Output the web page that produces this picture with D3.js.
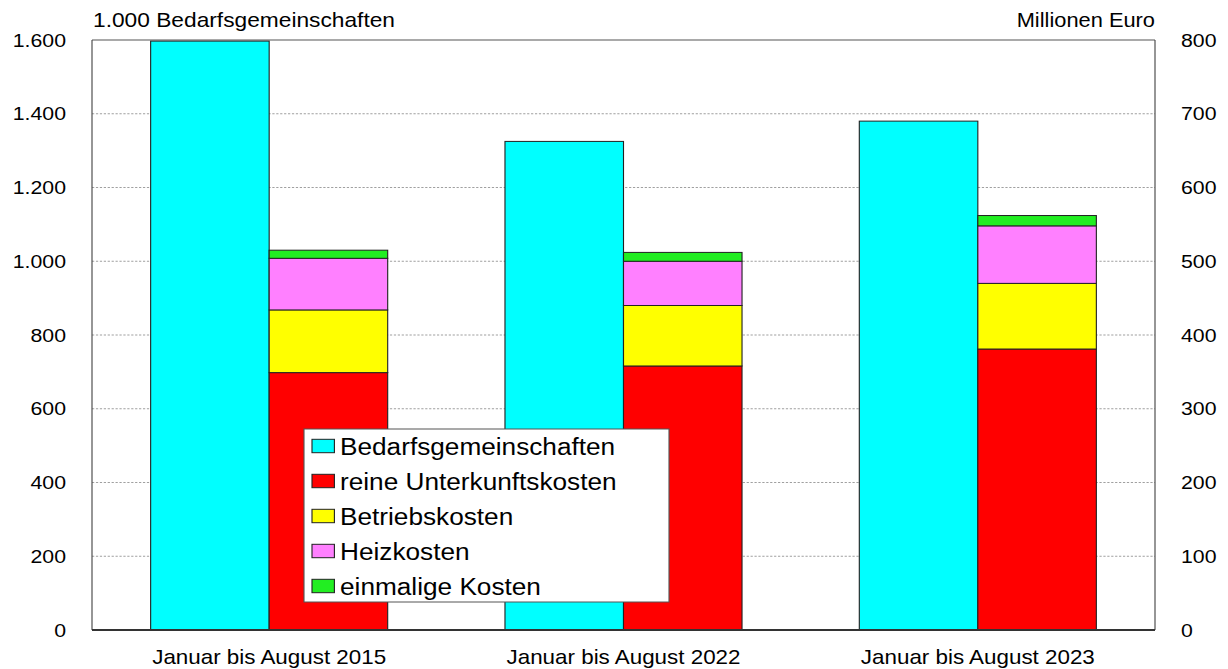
<!DOCTYPE html>
<html>
<head>
<meta charset="utf-8">
<script src="https://cdn.jsdelivr.net/npm/d3@7"></script>
<style>
  html, body { margin: 0; padding: 0; background: #fff; }
  svg { display: block; }
  text { font-family: "Liberation Sans", Arial, Helvetica, sans-serif; fill: #000; }
</style>
</head>
<body>
<svg id="chart"></svg>
<script>
// ---- data ----
const categories = ["Januar bis August 2015", "Januar bis August 2022", "Januar bis August 2023"];
const bedarfsgemeinschaften = [1597, 1325, 1380];      // 1.000 BG (left axis)
const reineUnterkunftskosten = [349, 358, 381];        // Mio. Euro (right axis)
const betriebskosten = [85, 82, 89];
const heizkosten = [70, 60, 78];
const einmaligeKosten = [11, 12, 14];
const leftTicks = [0, 200, 400, 600, 800, 1000, 1200, 1400, 1600];
const rightTicks = [0, 100, 200, 300, 400, 500, 600, 700, 800];
const seriesNames = ["Bedarfsgemeinschaften", "reine Unterkunftskosten", "Betriebskosten", "Heizkosten", "einmalige Kosten"];
const seriesColors = ["#00FFFF", "#FF0000", "#FFFF00", "#FF80FF", "#22EE22"];

(function () {
// ---- layout (text in the original is horizontally stretched) ----
const W = 1228, H = 669, SX = 1.12;
const VW = W / SX;
const svg = d3.select("#chart")
  .attr("width", W).attr("height", H)
  .attr("viewBox", `0 0 ${VW} ${H}`)
  .attr("preserveAspectRatio", "none");

const pL = 92 / SX, pR = 1155 / SX, pT = 40, pB = 630;

const x0 = d3.scaleBand().domain(categories).range([pL, pR]).paddingInner(0.331).paddingOuter(0.1655);
const x1 = d3.scaleBand().domain(["bg", "cost"]).range([0, x0.bandwidth()]).padding(0);
const yL = d3.scaleLinear().domain([0, 1600]).range([pB, pT]);
const yR = d3.scaleLinear().domain([0, 800]).range([pB, pT]);

// gridlines
svg.append("g").selectAll("line")
  .data(leftTicks.filter(t => t > 0 && t < 1600))
  .join("line")
  .attr("x1", pL).attr("x2", pR)
  .attr("y1", d => yL(d)).attr("y2", d => yL(d))
  .attr("stroke", "#a0a0a0").attr("stroke-width", 1)
  .attr("stroke-dasharray", "2,1.5");

// frame
const frame = svg.append("g").attr("fill", "none");
frame.append("line").attr("x1", pL).attr("x2", pR).attr("y1", pT).attr("y2", pT)
  .attr("stroke", "#555").attr("stroke-width", 1.2);
frame.append("line").attr("x1", pL).attr("x2", pL).attr("y1", pT).attr("y2", pB)
  .attr("stroke", "#444").attr("stroke-width", 1);
frame.append("line").attr("x1", pR).attr("x2", pR).attr("y1", pT).attr("y2", pB)
  .attr("stroke", "#444").attr("stroke-width", 1);

// cyan bars
svg.append("g").selectAll("rect")
  .data(categories)
  .join("rect")
  .attr("x", (d) => x0(d) + x1("bg"))
  .attr("width", x1.bandwidth())
  .attr("y", (d, i) => yL(bedarfsgemeinschaften[i]))
  .attr("height", (d, i) => yL(0) - yL(bedarfsgemeinschaften[i]))
  .attr("fill", seriesColors[0])
  .attr("stroke", "#222").attr("stroke-width", 1);

// stacked cost bars
const costRows = categories.map((c, i) => ({
  cat: c,
  u: reineUnterkunftskosten[i],
  b: betriebskosten[i],
  h: heizkosten[i],
  e: einmaligeKosten[i]
}));
const stacked = d3.stack().keys(["u", "b", "h", "e"])(costRows);
svg.append("g").selectAll("g")
  .data(stacked)
  .join("g")
  .attr("fill", (d, i) => seriesColors[i + 1])
  .selectAll("rect")
  .data(d => d)
  .join("rect")
  .attr("x", d => x0(d.data.cat) + x1("cost"))
  .attr("width", x1.bandwidth())
  .attr("y", d => yR(d[1]))
  .attr("height", d => yR(d[0]) - yR(d[1]))
  .attr("stroke", "#222").attr("stroke-width", 1);

// bottom axis line
svg.append("line").attr("x1", pL).attr("x2", pR).attr("y1", pB).attr("y2", pB)
  .attr("stroke", "#333").attr("stroke-width", 2);

// axes
const fmt = d3.formatLocale({ decimal: ",", thousands: ".", grouping: [3], currency: ["", "€"] }).format(",d");
const axL = svg.append("g").attr("transform", `translate(${pL},0)`)
  .call(d3.axisLeft(yL).tickValues(leftTicks).tickFormat(fmt).tickSize(0).tickPadding(23.2));
const axR = svg.append("g").attr("transform", `translate(${pR},0)`)
  .call(d3.axisRight(yR).tickValues(rightTicks).tickFormat(fmt).tickSize(0).tickPadding(23.2));
[axL, axR].forEach(a => {
  a.select(".domain").remove();
  a.selectAll("text").attr("font-size", 19).attr("font-family", '"Liberation Sans", Arial, sans-serif').attr("fill", "#000");
});

const axB = svg.append("g").attr("transform", `translate(0,${pB})`)
  .call(d3.axisBottom(x0).tickSize(0).tickPadding(0));
axB.select(".domain").remove();
axB.selectAll("text").attr("font-size", 20).attr("dy", null).attr("y", 34)
  .attr("font-family", '"Liberation Sans", Arial, sans-serif').attr("fill", "#000");

// axis titles
svg.append("text").attr("x", 93 / SX).attr("y", 27).attr("font-size", 20.3)
  .text("1.000 Bedarfsgemeinschaften");
svg.append("text").attr("x", pR).attr("y", 27).attr("font-size", 19.5)
  .attr("text-anchor", "end").text("Millionen Euro");

// legend
const lg = svg.append("g");
lg.append("rect").attr("x", 304 / SX).attr("y", 429).attr("width", (669 - 304) / SX).attr("height", 173)
  .attr("fill", "#fff").attr("stroke", "#555").attr("stroke-width", 1);
const items = lg.selectAll("g.item").data(seriesNames).join("g").attr("class", "item")
  .attr("transform", (d, i) => `translate(0,${446 + i * 35})`);
items.append("rect").attr("x", 312 / SX).attr("y", -6.7).attr("width", 22.4 / SX).attr("height", 13.4)
  .attr("fill", (d, i) => seriesColors[i]).attr("stroke", "#222").attr("stroke-width", 1);
items.append("text").attr("x", 340 / SX).attr("y", 8.5).attr("font-size", 23.4).text(d => d);
})();
</script>
</body>
</html>
